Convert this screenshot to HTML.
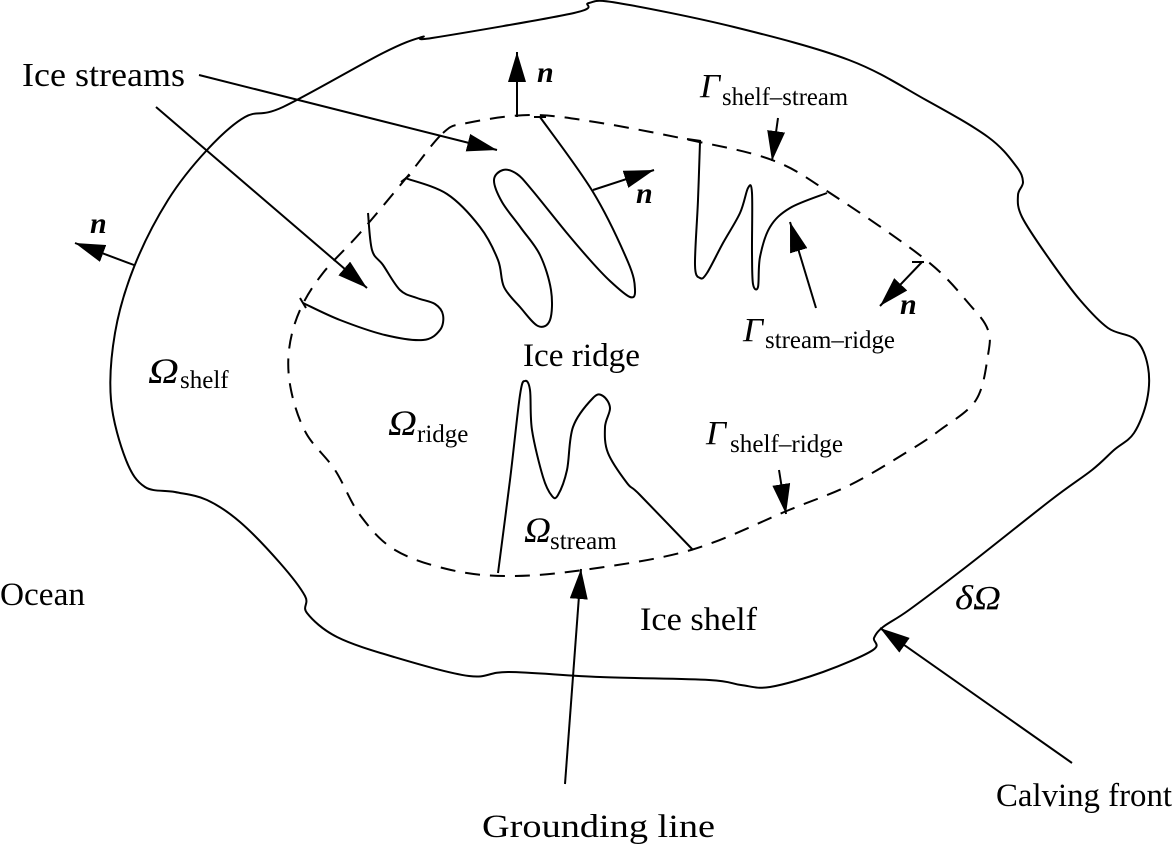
<!DOCTYPE html>
<html><head><meta charset="utf-8"><style>
html,body{margin:0;padding:0;background:#fff;}
svg{display:block;}
text{font-family:"Liberation Serif",serif;fill:#000;}
.it{font-style:italic;}
</style></head><body>
<svg id="fig" width="1175" height="845" viewBox="0 0 1175 845" xmlns="http://www.w3.org/2000/svg">
<defs>
<marker id="ah" viewBox="0 0 30 18" refX="30" refY="9" markerWidth="30" markerHeight="18" markerUnits="userSpaceOnUse" orient="auto">
<path d="M0,0 L30,9 L0,18 Z" fill="#000"/>
</marker>
</defs>
<g id="lines" fill="none" stroke="#000" stroke-width="2"></g>
<g id="arrows" stroke="#000" stroke-width="2"></g>

<text x="22" y="86" font-size="34" textLength="163" lengthAdjust="spacingAndGlyphs">Ice streams</text>
<text x="0" y="605" font-size="33" textLength="85" lengthAdjust="spacingAndGlyphs">Ocean</text>
<text x="523" y="366" font-size="33" textLength="117" lengthAdjust="spacingAndGlyphs">Ice ridge</text>
<text x="640" y="630" font-size="33" textLength="117" lengthAdjust="spacingAndGlyphs">Ice shelf</text>
<text x="482" y="837" font-size="33" textLength="233" lengthAdjust="spacingAndGlyphs">Grounding line</text>
<text x="996" y="806" font-size="33" textLength="176" lengthAdjust="spacingAndGlyphs">Calving front</text>
<text class="it" x="955" y="609" font-size="34" textLength="46" lengthAdjust="spacingAndGlyphs">δΩ</text>

<g>
<text class="it" x="148" y="383" font-size="36" textLength="31" lengthAdjust="spacingAndGlyphs">Ω</text><text x="180" y="388" font-size="25">shelf</text></g>
<g>
<text class="it" x="388" y="435" font-size="36" textLength="29" lengthAdjust="spacingAndGlyphs">Ω</text><text x="417" y="442" font-size="25">ridge</text></g>
<g>
<text class="it" x="524" y="542" font-size="36" textLength="27" lengthAdjust="spacingAndGlyphs">Ω</text><text x="550" y="549" font-size="25">stream</text></g>
<g>
<text class="it" x="700" y="97" font-size="34" textLength="20" lengthAdjust="spacingAndGlyphs">Γ</text><text x="722" y="105" font-size="25" textLength="126" lengthAdjust="spacingAndGlyphs">shelf–stream</text></g>
<g>
<text class="it" x="743" y="341" font-size="34" textLength="20" lengthAdjust="spacingAndGlyphs">Γ</text><text x="765" y="348" font-size="25" textLength="130" lengthAdjust="spacingAndGlyphs">stream–ridge</text></g>
<g>
<text class="it" x="706" y="444" font-size="34" textLength="20" lengthAdjust="spacingAndGlyphs">Γ</text><text x="730" y="452" font-size="25" textLength="113" lengthAdjust="spacingAndGlyphs">shelf–ridge</text></g>

<text x="537" y="82" font-size="30" font-weight="bold" font-style="italic">n</text>
<text x="90" y="233" font-size="30" font-weight="bold" font-style="italic">n</text>
<text x="636" y="203" font-size="30" font-weight="bold" font-style="italic">n</text>
<text x="900" y="314" font-size="30" font-weight="bold" font-style="italic">n</text>
</svg>
<script>
const outer=[[589,3],[618,3],[734,27],[849,60],[926,100],[988,137],[1016,166],[1023,182],[1018,195],[1022,217],[1050,260],[1080,300],[1108,328],[1136,340],[1148,367],[1147,400],[1134,433],[1114,450],[1092,470],[1051,500],[966,567],[909,610],[883,627],[874,638],[873,650],[823,672],[770,687],[741,685],[709,680],[600,677],[509,672],[469,676],[394,657],[337,637],[307,613],[305,596],[280,563],[240,522],[207,500],[175,492],[145,487],[126,460],[111,400],[115,333],[134,267],[168,200],[207,150],[245,117],[283,107],[383,53],[422,37],[432,38],[574,13]];
const dashed=[[443,133],[467,123],[530,115],[595,122],[690,140],[772,160],[830,193],[926,260],[970,305],[988,330],[988,355],[976,400],[940,430],[907,452],[850,485],[789,510],[691,550],[583,570],[509,576],[451,570],[395,550],[360,515],[335,470],[306,433],[291,390],[289,350],[300,310],[323,273],[360,233],[407,177]];
const stream1=[[368,213],[372,250],[383,265],[400,290],[417,298],[435,304],[443,315],[440,330],[423,340],[385,335],[340,320],[303,303]];
const stream2=[[405,178],[447,194],[480,227],[498,260],[504,287],[520,307],[538,326],[550,320],[551,290],[540,255],[521,228],[502,202],[494,180],[503,170],[517,174],[532,190],[566,232],[590,260],[610,281],[630,297],[635,290],[628,262],[593,192],[540,117]];
const stream3=[[700,142],[698,200],[695,265],[700,278],[707,273],[723,243],[740,213],[748,188],[752,193],[752,253],[753,284],[758,287],[760,257],[770,227],[790,208],[827,193]];
const stream4=[[498,573],[510,480],[520,395],[525,381],[530,390],[532,430],[543,477],[552,496],[558,495],[567,470],[573,427],[593,398],[603,396],[610,408],[605,427],[608,453],[627,483],[640,495],[693,550]];
const arrowList=[
 ['ice-streams-arrow-1',[199,75],[497,150]],
 ['ice-streams-arrow-2',[156,107],[367,288]],
 ['normal-arrow-top',[517,117],[517,52]],
 ['normal-arrow-left',[134,265],[75,243]],
 ['normal-arrow-stream',[593,190],[654,170]],
 ['gamma-shelf-stream-arrow',[778,118],[772,161]],
 ['normal-arrow-right',[922,262],[880,306]],
 ['gamma-stream-ridge-arrow',[816,308],[790,222]],
 ['gamma-shelf-ridge-arrow',[779,470],[786,514]],
 ['grounding-line-arrow',[565,784],[581,569]],
 ['calving-front-arrow',[1072,763],[880,628]]
];
const ticks=[[[300,298],[306,308]],[[401,182],[410,175]],[[534,117],[546,117]],[[687,139],[701,141]],[[912,262],[924,262]]];
const NS='http://www.w3.org/2000/svg';
function cr(p,closed){
 const n=p.length;let d='M'+p[0][0]+','+p[0][1];
 const g=i=>closed?p[(i+n)%n]:p[Math.max(0,Math.min(n-1,i))];
 const last=closed?n:n-1;
 for(let i=0;i<last;i++){const p0=g(i-1),p1=g(i),p2=g(i+1),p3=g(i+2);
  const c1=[p1[0]+(p2[0]-p0[0])/6,p1[1]+(p2[1]-p0[1])/6],c2=[p2[0]-(p3[0]-p1[0])/6,p2[1]-(p3[1]-p1[1])/6];
  d+=' C'+c1[0].toFixed(1)+','+c1[1].toFixed(1)+' '+c2[0].toFixed(1)+','+c2[1].toFixed(1)+' '+p2[0]+','+p2[1];}
 return d+(closed?' Z':'');}
const L=document.getElementById('lines');
function addPath(pts,closed,name,dash){
 const el=document.createElementNS(NS,'path');
 el.setAttribute('d',cr(pts,closed));
 if(dash)el.setAttribute('stroke-dasharray',dash);
 
 
 L.appendChild(el);}
addPath(outer,true,'calving-front-boundary');
addPath(dashed,true,'grounding-line-boundary','15 10');
addPath(stream1,false,'ice-stream-1');
addPath(stream2,false,'ice-stream-2');
addPath(stream3,false,'ice-stream-3');
addPath(stream4,false,'ice-stream-4');
ticks.forEach(t=>{const el=document.createElementNS(NS,'line');
 el.setAttribute('x1',t[0][0]);el.setAttribute('y1',t[0][1]);el.setAttribute('x2',t[1][0]);el.setAttribute('y2',t[1][1]);
 
 
 L.appendChild(el);});
const A=document.getElementById('arrows');
arrowList.forEach(a=>{const el=document.createElementNS(NS,'line');
 el.setAttribute('x1',a[1][0]);el.setAttribute('y1',a[1][1]);el.setAttribute('x2',a[2][0]);el.setAttribute('y2',a[2][1]);
 el.setAttribute('marker-end','url(#ah)');
 
 
 A.appendChild(el);});
</script>
</body></html>
